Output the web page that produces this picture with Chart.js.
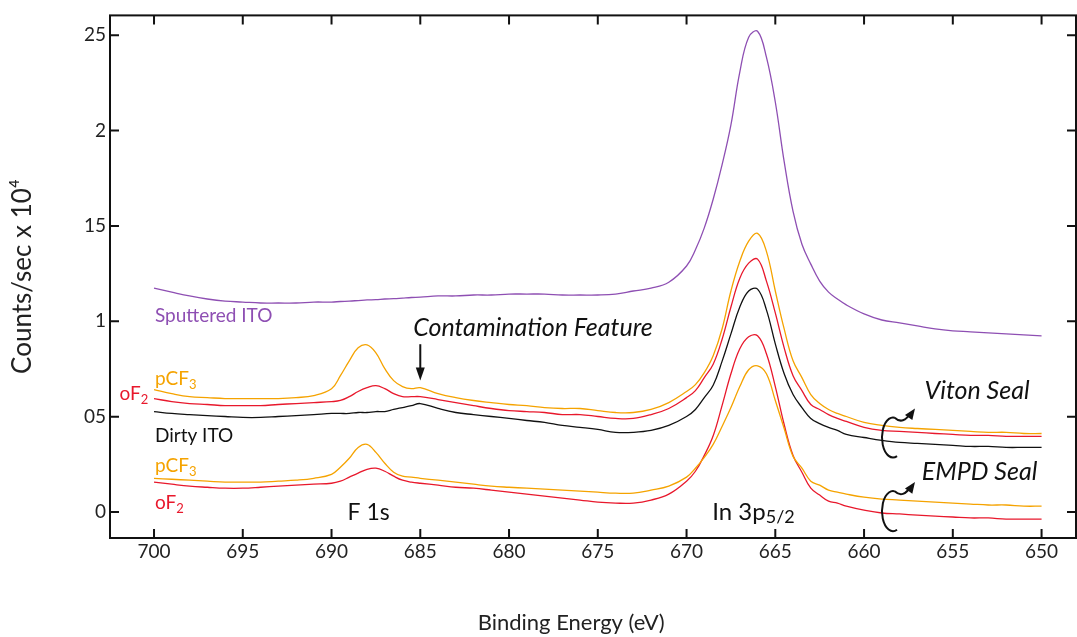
<!DOCTYPE html>
<html>
<head>
<meta charset="utf-8">
<script src="https://cdn.jsdelivr.net/npm/chart.js"></script>
<style>
  html, body { margin: 0; padding: 0; background: #fff; }
  #chart { display: block; }
</style>
</head>
<body>
<canvas id="chart" width="1077" height="637"></canvas>
<script>
// Binding energy grid (eV), finer steps around the F 1s and In 3p peaks
const energies = [
  700, 699, 698, 697, 696, 695, 694, 693, 692, 691,
  690, 689.5, 689, 688.5, 688, 687.5, 687, 686.5, 686, 685.5, 685,
  684, 683, 682, 681, 680, 679, 678, 677, 676, 675, 674, 673, 672, 671,
  670, 669.5, 669, 668.5, 668, 667.5, 667, 666.5, 666, 665.5, 665, 664.5, 664, 663.5, 663, 662.5, 662, 661.5, 661,
  660, 659, 658, 657, 656, 655, 654, 653, 652, 651, 650
];

// counts/sec x 10^4
const sputteredITO = [
  1.174, 1.153, 1.133, 1.117, 1.106, 1.101, 1.096, 1.096, 1.096, 1.101,
  1.101, 1.104, 1.106, 1.109, 1.112, 1.114, 1.117, 1.119, 1.122, 1.125, 1.127,
  1.133, 1.133, 1.138, 1.138, 1.143, 1.143, 1.143, 1.138, 1.138, 1.138, 1.143, 1.159, 1.174, 1.205,
  1.290, 1.375, 1.490, 1.640, 1.820, 2.030, 2.307, 2.490, 2.521, 2.385, 2.150, 1.837, 1.576, 1.404, 1.300, 1.211, 1.153, 1.117, 1.086,
  1.039, 1.007, 0.992, 0.976, 0.960, 0.950, 0.945, 0.939, 0.934, 0.929, 0.924
];
const vitonPCF3 = [
  0.642, 0.621, 0.605, 0.600, 0.595, 0.595, 0.595, 0.595, 0.600, 0.611,
  0.647, 0.715, 0.793, 0.861, 0.877, 0.835, 0.752, 0.689, 0.658, 0.647, 0.652,
  0.621, 0.600, 0.585, 0.574, 0.564, 0.558, 0.548, 0.543, 0.543, 0.532, 0.522, 0.522, 0.538, 0.574,
  0.632, 0.668, 0.731, 0.820, 0.960, 1.159, 1.315, 1.420, 1.461, 1.367, 1.159, 0.960, 0.793, 0.705, 0.616, 0.569, 0.538, 0.517, 0.501,
  0.470, 0.454, 0.444, 0.438, 0.433, 0.428, 0.423, 0.418, 0.418, 0.412, 0.412
];
const vitonOF2 = [
  0.595, 0.579, 0.569, 0.564, 0.558, 0.558, 0.558, 0.564, 0.569, 0.574,
  0.579, 0.585, 0.605, 0.632, 0.652, 0.663, 0.647, 0.621, 0.605, 0.605, 0.605,
  0.590, 0.574, 0.558, 0.543, 0.532, 0.527, 0.522, 0.511, 0.511, 0.501, 0.491, 0.491, 0.511, 0.543,
  0.600, 0.637, 0.705, 0.775, 0.905, 1.075, 1.226, 1.305, 1.326, 1.211, 1.044, 0.861, 0.715, 0.637, 0.564, 0.538, 0.511, 0.491, 0.475,
  0.444, 0.428, 0.423, 0.418, 0.412, 0.407, 0.402, 0.402, 0.397, 0.397, 0.397
];
const dirtyITO = [
  0.527, 0.517, 0.511, 0.506, 0.501, 0.496, 0.496, 0.501, 0.506, 0.511,
  0.517, 0.517, 0.517, 0.522, 0.522, 0.527, 0.527, 0.538, 0.548, 0.558, 0.569,
  0.543, 0.522, 0.511, 0.501, 0.491, 0.480, 0.470, 0.454, 0.444, 0.433, 0.418, 0.418, 0.428, 0.454,
  0.501, 0.538, 0.600, 0.665, 0.790, 0.934, 1.075, 1.159, 1.169, 1.060, 0.882, 0.725, 0.616, 0.548, 0.491, 0.464, 0.444, 0.428, 0.407,
  0.391, 0.376, 0.365, 0.360, 0.355, 0.350, 0.344, 0.344, 0.339, 0.339, 0.339
];
const empdPCF3 = [
  0.177, 0.172, 0.167, 0.162, 0.157, 0.157, 0.157, 0.162, 0.167, 0.177,
  0.198, 0.235, 0.282, 0.339, 0.355, 0.313, 0.256, 0.209, 0.188, 0.183, 0.177,
  0.167, 0.157, 0.146, 0.136, 0.130, 0.125, 0.120, 0.115, 0.110, 0.104, 0.099, 0.099, 0.115, 0.136,
  0.183, 0.230, 0.287, 0.355, 0.449, 0.548, 0.658, 0.746, 0.767, 0.725, 0.585, 0.438, 0.292, 0.230, 0.162, 0.141, 0.115, 0.104, 0.094,
  0.078, 0.068, 0.063, 0.057, 0.052, 0.047, 0.042, 0.037, 0.037, 0.031, 0.031
];
const empdOF2 = [
  0.157, 0.146, 0.136, 0.130, 0.125, 0.125, 0.130, 0.136, 0.141, 0.146,
  0.151, 0.162, 0.183, 0.204, 0.224, 0.230, 0.214, 0.188, 0.167, 0.157, 0.151,
  0.141, 0.130, 0.125, 0.115, 0.104, 0.094, 0.084, 0.073, 0.063, 0.052, 0.047, 0.047, 0.063, 0.094,
  0.162, 0.214, 0.297, 0.400, 0.558, 0.725, 0.856, 0.919, 0.924, 0.830, 0.658, 0.459, 0.297, 0.209, 0.125, 0.089, 0.057, 0.047, 0.031,
  0.010, -0.005, -0.010, -0.016, -0.021, -0.026, -0.031, -0.031, -0.037, -0.037, -0.037
];

const xTickValues = [700, 695, 690, 685, 680, 675, 670, 665, 660, 655, 650];
const xTickLabels = ['700', '695', '690', '685', '680', '675', '670', '665', '660', '655', '650'];
const yTickValues = [0, 0.5, 1, 1.5, 2, 2.5];
const yTickLabels = ['0', '05', '1', '15', '2', '25'];

const FONT = 'Lato, "Noto Sans", sans-serif';
const PURPLE = '#8e4fb3';
const ORANGE = '#f5a300';
const RED = '#e8182c';
const BLACK = '#111111';
const TEXT = '#222222';

const toPoints = ys => ys.map((y, i) => ({ x: energies[i], y: y }));

function series(label, ys, color) {
  return {
    label: label,
    data: toPoints(ys),
    borderColor: color,
    borderWidth: 1.3,
    pointRadius: 0,
    tension: 0.4,
    fill: false
  };
}

// text labels placed in data coordinates (energy, counts)
const textNotes = [
  { e: 699.95, v: 1.028, color: PURPLE, parts: [{ t: 'Sputtered ITO', s: 19 }] },
  { e: 699.95, v: 0.700, color: ORANGE, parts: [{ t: 'pCF', s: 19 }, { t: '3', s: 13, dy: 6 }] },
  { e: 701.95, v: 0.620, color: RED, parts: [{ t: 'oF', s: 19 }, { t: '2', s: 13, dy: 6 }] },
  { e: 699.95, v: 0.400, color: BLACK, parts: [{ t: 'Dirty ITO', s: 19 }] },
  { e: 699.95, v: 0.240, color: ORANGE, parts: [{ t: 'pCF', s: 19 }, { t: '3', s: 13, dy: 6 }] },
  { e: 699.95, v: 0.047, color: RED, parts: [{ t: 'oF', s: 19 }, { t: '2', s: 13, dy: 6 }] },
  { e: 689.1, v: -0.005, color: BLACK, parts: [{ t: 'F 1s', s: 23 }] },
  { e: 668.55, v: 0.000, color: BLACK, parts: [{ t: 'In 3p', s: 24 }, { t: '5/2', s: 18, dy: 5 }] },
  { e: 685.4, v: 0.966, color: BLACK, italic: true, parts: [{ t: 'Contamination Feature', s: 25 }] },
  { e: 656.6, v: 0.637, color: BLACK, italic: true, parts: [{ t: 'Viton Seal', s: 25 }] },
  { e: 656.75, v: 0.209, color: BLACK, italic: true, parts: [{ t: 'EMPD Seal', s: 25 }] }
];
const downArrow = { e: 685.0, vFrom: 0.88, vTo: 0.69 };
const curls = [
  { e: 658.37, v: 0.391 },
  { e: 658.37, v: 0.005 }
];

function drawParts(ctx, note, x, y) {
  ctx.fillStyle = note.color;
  ctx.textAlign = 'left';
  ctx.textBaseline = 'middle';
  note.parts.forEach(p => {
    ctx.font = (note.italic ? 'italic ' : '') + p.s + 'px ' + FONT;
    ctx.fillText(p.t, x, y + (p.dy || 0));
    x += ctx.measureText(p.t).width + (p.dy ? 1 : 0);
  });
}

function arrowHead(ctx, x, y, ang, len, half) {
  ctx.beginPath();
  ctx.moveTo(x, y);
  ctx.lineTo(x - len * Math.cos(ang) + half * Math.sin(ang), y - len * Math.sin(ang) - half * Math.cos(ang));
  ctx.lineTo(x - len * Math.cos(ang) - half * Math.sin(ang), y - len * Math.sin(ang) + half * Math.cos(ang));
  ctx.closePath();
  ctx.fill();
}

const framePlugin = {
  id: 'frame',
  afterDatasetsDraw(chart) {
    const { ctx, chartArea: a, scales: { x, y } } = chart;
    ctx.save();
    ctx.strokeStyle = BLACK;
    ctx.lineWidth = 2;
    ctx.strokeRect(a.left, a.top, a.right - a.left, a.bottom - a.top);
    ctx.beginPath();
    x.ticks.forEach(t => {
      const p = x.getPixelForValue(t.value);
      ctx.moveTo(p, a.bottom); ctx.lineTo(p, a.bottom - 9);
      ctx.moveTo(p, a.top); ctx.lineTo(p, a.top + 9);
    });
    y.ticks.forEach(t => {
      const p = y.getPixelForValue(t.value);
      ctx.moveTo(a.left, p); ctx.lineTo(a.left + 9, p);
      ctx.moveTo(a.right, p); ctx.lineTo(a.right - 9, p);
    });
    ctx.stroke();
    ctx.restore();
  }
};

const notesPlugin = {
  id: 'notes',
  afterDraw(chart) {
    const { ctx, scales: { x, y } } = chart;
    ctx.save();
    textNotes.forEach(n => drawParts(ctx, n, x.getPixelForValue(n.e), y.getPixelForValue(n.v)));

    // x axis title, sits a little left of the plot centre in the original
    ctx.fillStyle = TEXT;
    ctx.font = '22px ' + FONT;
    ctx.textAlign = 'center';
    ctx.textBaseline = 'middle';
    ctx.fillText('Binding Energy (eV)', x.getPixelForValue(676.5), chart.height - 14);

    // contamination arrow
    ctx.strokeStyle = BLACK;
    ctx.fillStyle = BLACK;
    ctx.lineWidth = 2;
    const ax = x.getPixelForValue(downArrow.e);
    const ay1 = y.getPixelForValue(downArrow.vFrom);
    const ay2 = y.getPixelForValue(downArrow.vTo);
    ctx.beginPath();
    ctx.moveTo(ax, ay1);
    ctx.lineTo(ax, ay2 - 8);
    ctx.stroke();
    arrowHead(ctx, ax, ay2, Math.PI / 2, 13, 4.5);

    // curled arrows next to the seal labels
    curls.forEach(c => {
      const cx = x.getPixelForValue(c.e);
      const cy = y.getPixelForValue(c.v);
      ctx.beginPath();
      ctx.ellipse(cx, cy, 11, 20, 0, Math.PI * 0.38, Math.PI * 1.55);
      const sx = cx + 11 * Math.cos(Math.PI * 1.55);
      const sy = cy + 20 * Math.sin(Math.PI * 1.55);
      ctx.moveTo(sx, sy);
      ctx.quadraticCurveTo(cx + 10, cy - 12, cx + 18, cy - 25);
      ctx.stroke();
      arrowHead(ctx, cx + 22, cy - 29, Math.atan2(-17, 12), 11, 4.5);
    });
    ctx.restore();
  }
};

new Chart(document.getElementById('chart'), {
  type: 'line',
  data: {
    datasets: [
      series('Sputtered ITO', sputteredITO, PURPLE),
      series('Viton pCF3', vitonPCF3, ORANGE),
      series('Viton oF2', vitonOF2, RED),
      series('Dirty ITO', dirtyITO, BLACK),
      series('EMPD pCF3', empdPCF3, ORANGE),
      series('EMPD oF2', empdOF2, RED)
    ]
  },
  options: {
    responsive: false,
    animation: false,
    events: [],
    layout: { padding: { top: 13, right: 1, left: 0, bottom: 0 } },
    plugins: { legend: { display: false }, tooltip: { enabled: false } },
    scales: {
      x: {
        type: 'linear',
        reverse: true,
        min: 648.06,
        max: 702.48,
        afterBuildTicks: s => { s.ticks = xTickValues.map(v => ({ value: v })); },
        afterFit: s => { s.height = 99; },
        grid: { display: false, drawTicks: false },
        border: { display: false },
        ticks: {
          autoSkip: false,
          maxRotation: 0,
          padding: 2,
          color: TEXT,
          font: { family: FONT, size: 19 },
          callback: (v, i) => xTickLabels[i]
        },
        title: { display: false }
      },
      y: {
        type: 'linear',
        min: -0.136,
        max: 2.604,
        afterBuildTicks: s => { s.ticks = yTickValues.map(v => ({ value: v })); },
        afterFit: s => { s.width = 110; },
        grid: { display: false, drawTicks: false },
        border: { display: false },
        ticks: {
          autoSkip: false,
          padding: 4,
          color: TEXT,
          font: { family: FONT, size: 19 },
          callback: (v, i) => yTickLabels[i]
        },
        title: {
          display: true,
          text: 'Counts/sec x 10⁴',
          color: TEXT,
          font: { family: FONT, size: 26 },
          padding: { top: 7, bottom: 0 }
        }
      }
    }
  },
  plugins: [framePlugin, notesPlugin]
});
</script>
</body>
</html>
